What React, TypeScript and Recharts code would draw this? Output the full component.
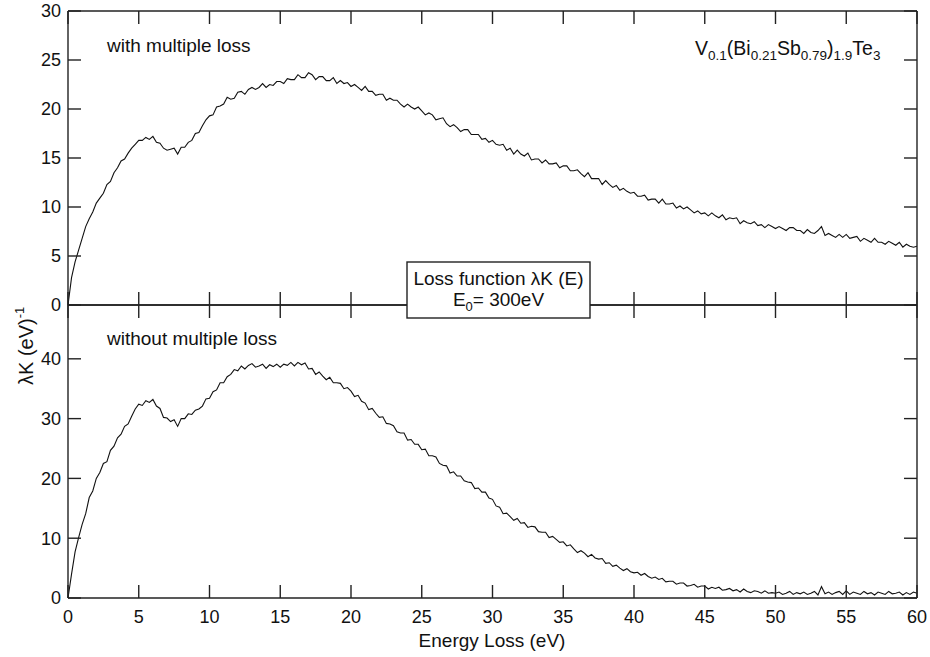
import { LineChart, Line, XAxis, YAxis } from 'recharts';

const FONT = '"Liberation Sans", Arial, sans-serif';
const INK = '#111';
const FRAME = '#222';

// energy grid step (eV)
const E_STEP = 0.25;

const X_TICKS = [0, 5, 10, 15, 20, 25, 30, 35, 40, 45, 50, 55, 60];
const TOP_TICKS = [0, 5, 10, 15, 20, 25, 30];
const BOTTOM_TICKS = [0, 10, 20, 30, 40];

// λK with multiple loss, 0 .. 60 eV every 0.25 eV
const WITH_MULTIPLE = [
  0, 2.8, 4.4, 5.6, 6.8, 8.0, 8.8, 9.5, 10.4, 10.9, 11.4, 12.3, 12.6, 13.5, 14.0, 14.7, 14.9, 15.5, 16.0, 16.4,
  16.8, 16.8, 17.1, 16.9, 17.2, 16.6, 16.5, 16.0, 15.8, 15.9, 16.0, 15.4, 16.1, 16.1, 16.6, 16.8, 17.5, 17.6, 18.3, 18.9,
  19.3, 19.4, 20.2, 20.3, 20.5, 21.2, 21.0, 21.1, 21.7, 21.8, 21.5, 22.0, 22.2, 22.0, 22.2, 22.6, 22.2, 22.5, 22.4, 22.8,
  22.8, 22.6, 23.1, 23.0, 23.0, 23.5, 23.2, 23.2, 23.7, 23.5, 23.0, 23.3, 23.3, 22.9, 22.9, 23.2, 22.6, 22.9, 22.6, 22.7,
  22.3, 22.5, 22.2, 21.9, 22.3, 21.8, 21.8, 21.4, 21.5, 21.5, 20.9, 21.1, 20.9, 20.9, 20.5, 20.2, 20.5, 20.2, 20.0, 20.2,
  19.8, 19.4, 19.6, 19.4, 18.9, 19.0, 19.1, 18.5, 18.2, 18.4, 18.1, 17.7, 17.9, 17.9, 17.4, 17.4, 17.4, 16.9, 17.0, 16.6,
  16.8, 16.4, 16.3, 16.4, 15.8, 16.0, 15.4, 15.8, 15.4, 15.2, 15.5, 14.8, 14.9, 14.9, 14.5, 14.8, 14.4, 14.4, 14.5, 14.0,
  14.2, 14.2, 13.7, 13.7, 13.8, 13.4, 13.1, 13.5, 12.9, 12.9, 12.9, 12.3, 12.7, 12.3, 12.0, 12.2, 11.7, 11.9, 11.6, 11.4,
  11.5, 11.1, 11.1, 11.2, 10.7, 10.8, 10.8, 10.4, 10.8, 10.3, 10.3, 10.4, 9.9, 10.1, 9.8, 10.0, 9.7, 9.4, 9.6, 9.3,
  9.4, 9.1, 9.4, 9.1, 8.9, 9.2, 8.7, 8.9, 8.8, 8.9, 8.3, 8.6, 8.4, 8.3, 8.5, 8.1, 8.2, 7.9, 8.2, 8.0,
  7.8, 8.0, 7.8, 7.6, 7.9, 7.9, 7.6, 7.6, 7.3, 7.7, 7.4, 7.3, 7.6, 8.0, 7.1, 7.3, 7.1, 6.9, 7.2, 6.9,
  7.2, 6.8, 6.9, 7.0, 6.5, 6.8, 6.6, 6.4, 6.8, 6.4, 6.4, 6.2, 6.5, 6.3, 6.1, 6.4, 5.9, 6.2, 6.0, 5.9, 6.0,
];

// λK without multiple loss, same grid
const WITHOUT_MULTIPLE = [
  0, 4.0, 7.7, 10.1, 12.3, 14.1, 16.8, 17.9, 20.0, 21.0, 22.5, 22.8, 24.7, 25.4, 26.8, 27.4, 28.7, 29.1, 30.4, 31.6,
  32.4, 32.2, 33.0, 32.7, 33.2, 32.1, 31.7, 30.2, 30.1, 29.5, 29.8, 28.7, 30.0, 30.0, 30.8, 30.7, 31.4, 31.6, 32.1, 33.3,
  33.4, 34.5, 34.8, 36.0, 36.0, 37.0, 37.4, 38.2, 38.0, 38.8, 38.3, 38.9, 39.2, 38.6, 38.8, 39.1, 38.4, 39.0, 38.7, 39.1,
  38.6, 39.1, 38.9, 39.4, 38.8, 39.4, 39.0, 39.3, 38.3, 38.4, 37.4, 37.8, 37.1, 36.5, 36.9, 36.0, 36.0, 35.9, 35.0, 35.2,
  34.6, 33.7, 33.9, 32.9, 32.6, 31.5, 31.7, 30.9, 30.2, 30.3, 29.2, 29.1, 28.8, 27.8, 27.6, 27.6, 26.4, 26.5, 25.7, 25.7,
  24.8, 24.9, 23.8, 23.8, 23.6, 22.5, 22.2, 22.1, 20.9, 21.1, 20.4, 20.4, 19.6, 19.4, 19.3, 18.3, 18.4, 17.7, 17.7, 16.7,
  16.5, 15.4, 15.2, 14.1, 14.2, 13.6, 13.0, 13.3, 12.5, 12.6, 11.8, 12.0, 11.9, 11.1, 11.0, 11.0, 10.1, 10.3, 9.8, 9.3,
  9.4, 8.7, 8.9, 8.2, 7.6, 7.9, 7.5, 6.9, 7.3, 6.7, 6.5, 6.6, 5.8, 5.9, 5.3, 5.5, 5.0, 4.6, 4.9, 4.4,
  4.2, 4.3, 3.8, 4.1, 3.6, 3.3, 3.5, 3.1, 3.3, 2.7, 2.8, 2.8, 2.3, 2.5, 2.5, 2.0, 2.1, 2.3, 1.8, 2.0,
  2.0, 1.5, 1.8, 1.6, 1.8, 1.3, 1.4, 1.6, 1.2, 1.4, 1.0, 1.5, 1.1, 0.9, 1.2, 1.1, 0.8, 1.2, 0.8, 0.9,
  0.8, 1.0, 0.6, 0.8, 1.1, 0.6, 0.9, 0.7, 1.0, 0.6, 0.8, 1.1, 0.5, 1.9, 0.7, 1.0, 0.6, 0.9, 1.1, 0.6,
  1.2, 0.6, 1.0, 0.8, 0.6, 1.1, 0.7, 0.9, 0.5, 1.0, 0.8, 0.6, 1.1, 0.7, 0.8, 1.0, 0.5, 0.9, 0.6, 1.0, 0.8,
];

const data = WITH_MULTIPLE.map((v, i) => ({
  e: i * E_STEP,
  withLoss: v,
  withoutLoss: WITHOUT_MULTIPLE[i],
}));

const axisLine = { stroke: FRAME, strokeWidth: 1.4 };
const TICK_LEN = 13;
const labelStyle = { fontSize: 18, fill: INK, fontFamily: FONT };

// inward ticks: the axis is laid out with tickSize 0, so x/y is on the axis line
const LeftTick = ({ x, y, payload }: any) => (
  <g>
    <line x1={x} y1={y} x2={x + TICK_LEN} y2={y} stroke={FRAME} strokeWidth={1.4} />
    <text x={x - 7} y={y} dy="0.36em" textAnchor="end" {...labelStyle}>{payload.value}</text>
  </g>
);
const RightTick = ({ x, y }: any) => (
  <line x1={x} y1={y} x2={x - TICK_LEN} y2={y} stroke={FRAME} strokeWidth={1.4} />
);
const TopTick = ({ x, y }: any) => (
  <line x1={x} y1={y} x2={x} y2={y + TICK_LEN} stroke={FRAME} strokeWidth={1.4} />
);
const BottomTickNoLabel = ({ x, y }: any) => (
  <line x1={x} y1={y} x2={x} y2={y - TICK_LEN} stroke={FRAME} strokeWidth={1.4} />
);
const BottomTick = ({ x, y, payload }: any) => (
  <g>
    <line x1={x} y1={y} x2={x} y2={y - TICK_LEN} stroke={FRAME} strokeWidth={1.4} />
    <text x={x} y={y} dy={25} textAnchor="middle" {...labelStyle}>{payload.value}</text>
  </g>
);

function Frame({ yDomain, yTicks, bottomHeight, bottomTick }: any) {
  return [
    <XAxis key="xb" xAxisId="b" dataKey="e" type="number" domain={[0, 60]} ticks={X_TICKS} orientation="bottom"
      height={bottomHeight} tickSize={0} tickMargin={0} tickLine={false} tick={bottomTick} axisLine={axisLine} />,
    <XAxis key="xt" xAxisId="t" dataKey="e" type="number" domain={[0, 60]} ticks={X_TICKS} orientation="top"
      height={1} tickSize={0} tickMargin={0} tickLine={false} tick={<TopTick />} axisLine={axisLine} />,
    <YAxis key="yl" yAxisId="l" type="number" domain={yDomain} ticks={yTicks} width={68} allowDataOverflow
      tickSize={0} tickMargin={0} tickLine={false} tick={<LeftTick />} axisLine={axisLine} />,
    <YAxis key="yr" yAxisId="r" orientation="right" type="number" domain={yDomain} ticks={yTicks} width={1}
      allowDataOverflow tickSize={0} tickMargin={0} tickLine={false} tick={<RightTick />} axisLine={axisLine} />,
  ];
}

export default function App() {
  return (
    <div style={{ position: 'absolute', left: 0, top: 0, width: 930, height: 657, background: '#fff' }}>
      {/* upper panel: with multiple loss */}
      <div style={{ position: 'absolute', left: 0, top: 0 }}>
        <LineChart width={930} height={315} data={data} margin={{ top: 10, right: 12, bottom: 9, left: 0 }}>
          {Frame({ yDomain: [0, 30], yTicks: TOP_TICKS, bottomHeight: 1, bottomTick: <BottomTickNoLabel /> })}
          <Line xAxisId="t" yAxisId="r" type="linear" dataKey="withLoss" stroke="none" dot={false}
            activeDot={false} isAnimationActive={false} />
          <Line xAxisId="b" yAxisId="l" type="linear" dataKey="withLoss" stroke={INK} strokeWidth={1.1}
            dot={false} isAnimationActive={false} />
        </LineChart>
      </div>

      {/* lower panel: without multiple loss */}
      <div style={{ position: 'absolute', left: 0, top: 304 }}>
        <LineChart width={930} height={352} data={data} margin={{ top: 0, right: 12, bottom: 0, left: 0 }}>
          {Frame({ yDomain: [0, 49], yTicks: BOTTOM_TICKS, bottomHeight: 58, bottomTick: <BottomTick /> })}
          <Line xAxisId="t" yAxisId="r" type="linear" dataKey="withoutLoss" stroke="none" dot={false}
            activeDot={false} isAnimationActive={false} />
          <Line xAxisId="b" yAxisId="l" type="linear" dataKey="withoutLoss" stroke={INK} strokeWidth={1.1}
            dot={false} isAnimationActive={false} />
        </LineChart>
      </div>

      {/* annotations */}
      <svg width={930} height={657} style={{ position: 'absolute', left: 0, top: 0, pointerEvents: 'none' }}
        fontFamily={FONT} fill={INK}>
        <text x={107} y={52} fontSize={19}>with multiple loss</text>
        <text x={107} y={345} fontSize={19}>without multiple loss</text>

        <text x={695} y={55} fontSize={19.5}>
          V<tspan fontSize={13.5} dy={5}>0.1</tspan>
          <tspan dy={-5}>(Bi</tspan><tspan fontSize={13.5} dy={5}>0.21</tspan>
          <tspan dy={-5}>Sb</tspan><tspan fontSize={13.5} dy={5}>0.79</tspan>
          <tspan dy={-5}>)</tspan><tspan fontSize={13.5} dy={5}>1.9</tspan>
          <tspan dy={-5}>Te</tspan><tspan fontSize={13.5} dy={5}>3</tspan>
        </text>

        <rect x={407} y={262} width={183} height={56} fill="#fff" stroke={FRAME} strokeWidth={1.4} />
        <text x={498.5} y={285} fontSize={19} textAnchor="middle">Loss function λK (E)</text>
        <text x={498.5} y={306} fontSize={19} textAnchor="middle">
          E<tspan fontSize={13} dy={5}>0</tspan><tspan dy={-5}>= 300eV</tspan>
        </text>

        <text transform="translate(33,385) rotate(-90)" fontSize={20}>
          λK (eV)<tspan fontSize={13} dy={-9}>-1</tspan>
        </text>

        <text x={492} y={647} fontSize={19} textAnchor="middle">Energy Loss (eV)</text>
      </svg>
    </div>
  );
}
